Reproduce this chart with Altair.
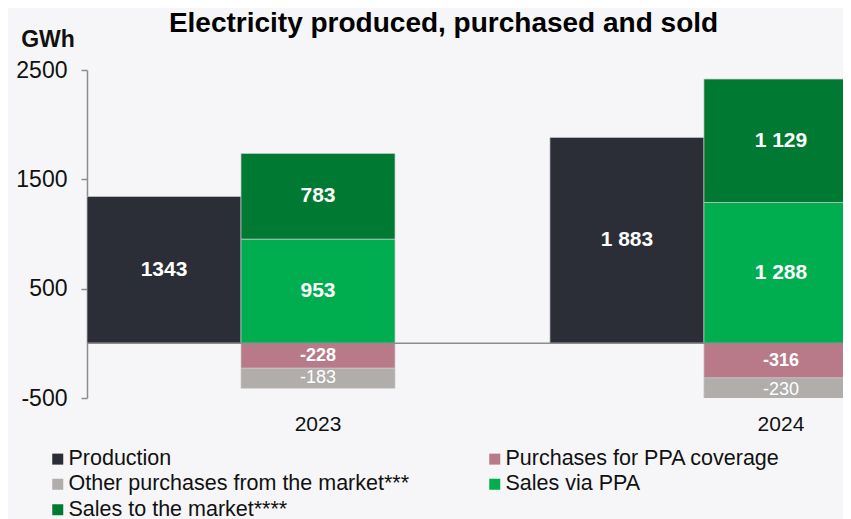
import altair as alt
import pandas as pd

# ---- data -------------------------------------------------------------
years = ["2023", "2024"]
# legend fills column by column: col 1 = first three, col 2 = last two
categories = [
    "Production",
    "Other purchases from the market***",
    "Sales to the market****",
    "Purchases for PPA coverage",
    "Sales via PPA",
]
colors = ["#2b2e37", "#b0adab", "#007a33", "#b87a88", "#00ae4f"]

production = [1343, 1883]
purchases_ppa = [-228, -316]
other_purchases = [-183, -230]
sales_ppa = [953, 1288]
sales_market = [783, 1129]

production_labels = ["1343", "1 883"]
purchases_ppa_labels = ["-228", "-316"]
other_purchases_labels = ["-183", "-230"]
sales_ppa_labels = ["953", "1 288"]
sales_market_labels = ["783", "1 129"]

y_ticks = [-500, 500, 1500, 2500]

# ---- table ------------------------------------------------------------
series = [
    ("Production", "prod", 0, production, production_labels),
    ("Purchases for PPA coverage", "sales", 1, purchases_ppa, purchases_ppa_labels),
    ("Other purchases from the market***", "sales", 2, other_purchases, other_purchases_labels),
    ("Sales via PPA", "sales", 1, sales_ppa, sales_ppa_labels),
    ("Sales to the market****", "sales", 2, sales_market, sales_market_labels),
]
rows = []
for i, yr in enumerate(years):
    for cat, col, order, vals, labs in series:
        rows.append({"year": yr, "col": col, "order": order, "category": cat,
                     "value": vals[i], "label": labs[i]})
df = pd.DataFrame(rows)

FONT = "Liberation Sans"
GREY = "#8c8c8c"

x_scale = alt.Scale(domain=years, paddingInner=0.367, paddingOuter=0)
xo_scale = alt.Scale(domain=["prod", "sales"], range=[0, 308],
                     paddingInner=0, paddingOuter=0)
y_scale = alt.Scale(domain=[-500, 2500], nice=False, zero=False)

x_axis = alt.Axis(labelOffset=84.5, labelPadding=15, labelFontSize=21,
                  labelColor="#111111", labelFont=FONT, domain=False,
                  ticks=False, tickSize=0, labelAngle=0, title=None)
y_axis = alt.Axis(values=y_ticks, grid=False, tickSize=6, tickColor=GREY,
                  tickWidth=1.5, domainColor=GREY, domainWidth=1.5,
                  labelFontSize=23, labelFont=FONT, labelColor="#111111",
                  labelPadding=14, labelExpr="'' + datum.value",
                  title="GWh", titleAngle=0,
                  titleFont=FONT, titleFontSize=23, titleFontWeight="bold",
                  titleColor="#111111", titleAlign="center",
                  titleBaseline="alphabetic", titleX=-39.5, titleY=-24)

base = alt.Chart(df).transform_stack(
    stack="value", as_=["v0", "v1"], groupby=["year", "col"],
    sort=[alt.SortField("order", order="ascending")], offset="zero"
)

bars = base.mark_bar(clip=True, stroke="#c8c8cc", strokeWidth=0.7).encode(
    x=alt.X("year:N", scale=x_scale, axis=x_axis),
    xOffset=alt.XOffset("col:N", scale=xo_scale),
    y=alt.Y("v0:Q", scale=y_scale, axis=y_axis),
    y2="v1:Q",
    color=alt.Color("category:N", scale=alt.Scale(domain=categories, range=colors),
                    legend=alt.Legend(title=None, orient="none", legendX=-40,
                                      legendY=378, columns=2, columnPadding=74,
                                      rowPadding=2.5, symbolType="square",
                                      symbolSize=121, symbolStrokeWidth=0,
                                      labelFont=FONT, labelFontSize=21.5,
                                      labelColor="#111111", labelOffset=0,
                                      labelLimit=600, padding=0)),
)

text_base = base.transform_calculate(mid="(datum.v0 + datum.v1) / 2")
text_enc = dict(
    x=alt.X("year:N", scale=x_scale, axis=x_axis),
    xOffset=alt.XOffset("col:N", scale=xo_scale),
    y=alt.Y("mid:Q", scale=y_scale, axis=y_axis),
    text="label:N",
    size=alt.condition("datum.value < 0", alt.value(18), alt.value(21)),
)
text_bold = text_base.transform_filter(
    "datum.category !== 'Other purchases from the market***'"
).mark_text(font=FONT, fontWeight="bold", color="white", baseline="middle",
            clip=True).encode(**text_enc)
text_reg = text_base.transform_filter(
    "datum.category === 'Other purchases from the market***'"
).mark_text(font=FONT, fontWeight="normal", color="white", baseline="middle",
            clip=True).encode(**text_enc)

zero = alt.Chart(pd.DataFrame({"z": [0]})).mark_rule(
    color=GREY, strokeWidth=1.5
).encode(y=alt.Y("z:Q", scale=y_scale, axis=y_axis))

chart = alt.layer(bars, zero, text_bold, text_reg).properties(
    width=756, height=328,
    autosize=alt.AutoSizeParams(type="none"),
    padding={"left": 79, "top": 62, "right": 0, "bottom": 121},
    title=alt.TitleParams("Electricity produced, purchased and sold", font=FONT,
                          fontSize=28, fontWeight="bold", color="#000000",
                          anchor="middle", dx=-21.5, offset=-32,
                          baseline="alphabetic"),
).configure(background="#f6f6f8").configure_view(stroke=None)

chart.save("out.html", embed_options={"renderer": "svg", "actions": False})
